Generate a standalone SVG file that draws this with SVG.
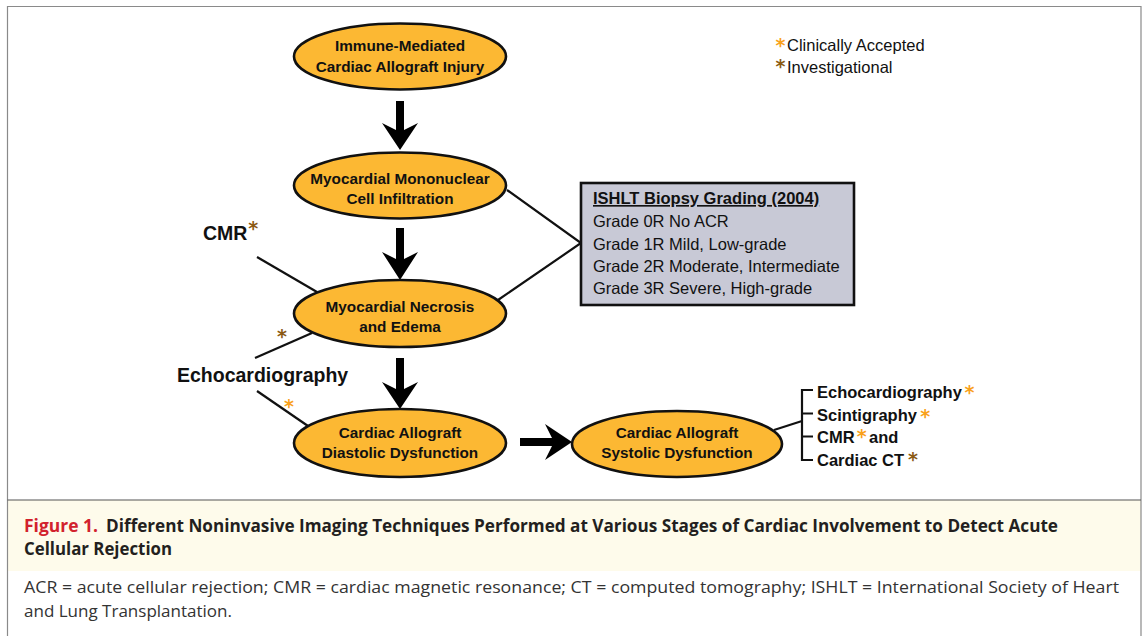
<svg xmlns="http://www.w3.org/2000/svg" width="1148" height="636" viewBox="0 0 1148 636">
  <style>
    .node { fill: #fcb833; stroke: #111; stroke-width: 2.6; }
    .nt { font-family: "Liberation Sans", Arial, sans-serif; font-weight: bold; font-size: 15.3px; fill: #111; text-anchor: middle; }
    .lbl { font-family: "Liberation Sans", Arial, sans-serif; font-weight: bold; font-size: 19.5px; fill: #111; }
    .lst { font-family: "Liberation Sans", Arial, sans-serif; font-weight: bold; font-size: 16.5px; fill: #111; }
    .reg { font-family: "Liberation Sans", Arial, sans-serif; font-size: 16.5px; fill: #111; }
    .ast { font-family: "DejaVu Sans", sans-serif; font-weight: bold; font-size: 19px; text-anchor: middle; }
    .acc { fill: #f9a11b; }
    .inv { fill: #8b5a14; }
    .ln { stroke: #111; stroke-width: 2.2; fill: none; }
    .arr { fill: #000; }
    .cap { font-family: "Open Sans", "Noto Sans", sans-serif; font-weight: bold; font-size: 18px; fill: #231f20; }
    .desc { font-family: "Open Sans", "Noto Sans", sans-serif; font-size: 16.5px; fill: #333; }
  </style>

  <rect x="0" y="0" width="1148" height="636" fill="#fff"/>
  <!-- frame and caption band -->
  <rect x="7.5" y="500" width="1133.5" height="71" fill="#fefbeb"/>
  <path d="M7.5 640 V6.5 H1141 V640" fill="none" stroke="#8a8a8a" stroke-width="1.2"/>
  <line x1="7.5" y1="500" x2="1141" y2="500" stroke="#555" stroke-width="1.2"/>

  <!-- connectors -->
  <g id="connectors">
    <polygon class="arr" points="396,101 404,101 404,130 418,123 400,150 382,123 396,130"/>
    <polygon class="arr" points="396,228 404,228 404,259 418,252 400,280 382,252 396,259"/>
    <polygon class="arr" points="396,358 404,358 404,389 418,382 400,409 382,382 396,389"/>
    <polygon class="arr" points="520,438 520,446 552,446 545,460 572,442 545,424 552,438"/>
    <polyline class="ln" points="507,190 581,243 498,300"/>
    <line class="ln" x1="257" y1="257" x2="317" y2="292"/>
    <line class="ln" x1="312" y1="333" x2="255" y2="358"/>
    <line class="ln" x1="257" y1="391" x2="308" y2="426"/>
    <line class="ln" x1="774" y1="430" x2="802" y2="421"/>
    <path class="ln" d="M813 390 H802 V460 H813 M802 413.5 H813 M802 436.5 H813" stroke-width="2.6"/>
  </g>

  <g id="n1">
    <ellipse class="node" cx="400" cy="56.5" rx="106" ry="33"/>
    <text class="nt" x="400" y="51">Immune-Mediated</text>
    <text class="nt" x="400" y="71.5">Cardiac Allograft Injury</text>
  </g>
  <g id="n2">
    <ellipse class="node" cx="400" cy="185.5" rx="106" ry="33"/>
    <text class="nt" x="400" y="184">Myocardial Mononuclear</text>
    <text class="nt" x="400" y="204">Cell Infiltration</text>
  </g>
  <g id="n3">
    <ellipse class="node" cx="400" cy="313.5" rx="106" ry="33.5"/>
    <text class="nt" x="400" y="311.5">Myocardial Necrosis</text>
    <text class="nt" x="400" y="331.5">and Edema</text>
  </g>
  <g id="n4">
    <ellipse class="node" cx="400" cy="443" rx="106" ry="34"/>
    <text class="nt" x="400" y="438">Cardiac Allograft</text>
    <text class="nt" x="400" y="457.5">Diastolic Dysfunction</text>
  </g>
  <g id="n5">
    <ellipse class="node" cx="677" cy="444" rx="105" ry="33"/>
    <text class="nt" x="677" y="438">Cardiac Allograft</text>
    <text class="nt" x="677" y="457.5">Systolic Dysfunction</text>
  </g>

  <g id="biopsy">
    <rect x="581" y="183" width="273" height="122" fill="#c8c9d6" stroke="#111" stroke-width="2.6"/>
    <text class="lst" x="593" y="204" text-decoration="underline">ISHLT Biopsy Grading (2004)</text>
    <text class="reg" x="593" y="227">Grade 0R No ACR</text>
    <text class="reg" x="593" y="249.5">Grade 1R Mild, Low-grade</text>
    <text class="reg" x="593" y="271.5">Grade 2R Moderate, Intermediate</text>
    <text class="reg" x="593" y="293.5">Grade 3R Severe, High-grade</text>
  </g>

  <g id="legend">
    <text class="ast acc" x="780.5" y="51.6">*</text>
    <text class="reg" x="787" y="51">Clinically Accepted</text>
    <text class="ast inv" x="780.5" y="73.4">*</text>
    <text class="reg" x="787" y="72.5">Investigational</text>
  </g>

  <g id="cmr-label">
    <text class="lbl" x="203" y="240">CMR</text>
    <text class="ast inv" x="253.3" y="234.7">*</text>
    <text class="ast inv" x="282" y="343.4">*</text>
  </g>
  <g id="echo-label">
    <text class="lbl" x="177" y="382">Echocardiography</text>
    <text class="ast acc" x="289" y="412.7">*</text>
  </g>

  <g id="systolic-tests">
    <text class="lst" x="817" y="398">Echocardiography</text>
    <text class="ast acc" x="969.5" y="398.7">*</text>
    <text class="lst" x="817" y="421">Scintigraphy</text>
    <text class="ast acc" x="925.3" y="422.7">*</text>
    <text class="lst" x="817" y="443">CMR</text>
    <text class="ast acc" x="861.7" y="443.4">*</text>
    <text class="lst" x="869" y="443">and</text>
    <text class="lst" x="817" y="465.5">Cardiac CT</text>
    <text class="ast inv" x="913" y="465.7">*</text>
  </g>

  <g id="caption">
    <text class="cap" x="24" y="531.5" style="fill:#d2222d" textLength="74" lengthAdjust="spacingAndGlyphs">Figure 1.</text>
    <text class="cap" x="106" y="531.5" textLength="952" lengthAdjust="spacingAndGlyphs">Different Noninvasive Imaging Techniques Performed at Various Stages of Cardiac Involvement to Detect Acute</text>
    <text class="cap" x="24" y="555" textLength="148" lengthAdjust="spacingAndGlyphs">Cellular Rejection</text>
    <text class="desc" x="24" y="593" textLength="1095" lengthAdjust="spacingAndGlyphs">ACR = acute cellular rejection; CMR = cardiac magnetic resonance; CT = computed tomography; ISHLT = International Society of Heart</text>
    <text class="desc" x="24" y="616.5" textLength="208" lengthAdjust="spacingAndGlyphs">and Lung Transplantation.</text>
  </g>
</svg>
